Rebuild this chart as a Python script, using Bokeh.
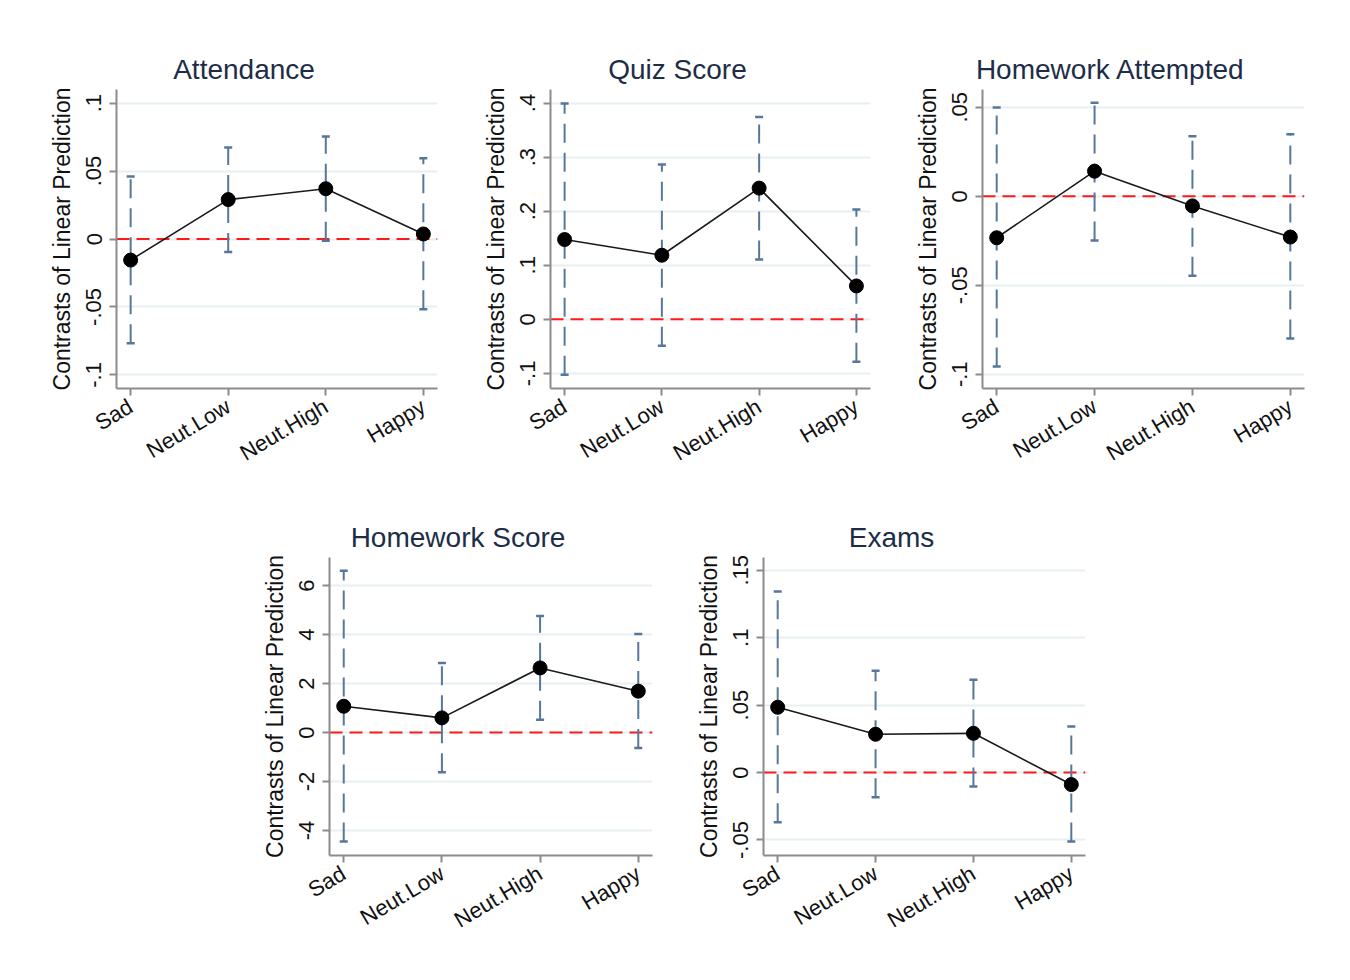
from bokeh.plotting import figure
from bokeh.models import (FixedTicker, Span, Whisker, TeeHead, ColumnDataSource,
                          Title, Range1d, Spacer)
from bokeh.layouts import row, column
from bokeh.embed import file_html
from bokeh.resources import INLINE

# ---------------- data ----------------
categories = ["Sad", "Neut.Low", "Neut.High", "Happy"]
cat_pos = [1, 2, 3, 4]

att_est = [-0.0155, 0.029, 0.037, 0.0037]
att_lo = [-0.0767, -0.0096, -0.0012, -0.0516]
att_hi = [0.046, 0.0673, 0.0754, 0.0595]
att_ticks = [-0.1, -0.05, 0, 0.05, 0.1]
att_tick_labels = ["-.1", "-.05", "0", ".05", ".1"]

quiz_est = [0.1475, 0.1185, 0.2426, 0.0617]
quiz_lo = [-0.1025, -0.0488, 0.1105, -0.0784]
quiz_hi = [0.399, 0.2864, 0.3741, 0.2031]
quiz_ticks = [-0.1, 0, 0.1, 0.2, 0.3, 0.4]
quiz_tick_labels = ["-.1", "0", ".1", ".2", ".3", ".4"]

hwa_est = [-0.0233, 0.0141, -0.0054, -0.0229]
hwa_lo = [-0.0957, -0.0248, -0.0447, -0.0799]
hwa_hi = [0.0499, 0.0525, 0.0338, 0.0349]
hwa_ticks = [-0.1, -0.05, 0, 0.05]
hwa_tick_labels = ["-.1", "-.05", "0", ".05"]

hws_est = [1.075, 0.6, 2.64, 1.69]
hws_lo = [-4.45, -1.62, 0.52, -0.63]
hws_hi = [6.61, 2.84, 4.76, 4.03]
hws_ticks = [-4, -2, 0, 2, 4, 6]
hws_tick_labels = ["-4", "-2", "0", "2", "4", "6"]

exam_est = [0.0484, 0.0284, 0.0291, -0.0089]
exam_lo = [-0.0368, -0.0183, -0.0104, -0.0511]
exam_hi = [0.1343, 0.0756, 0.0689, 0.0341]
exam_ticks = [-0.05, 0, 0.05, 0.1, 0.15]
exam_tick_labels = ["-.05", "0", ".05", ".1", ".15"]

y_title = "Contrasts of Linear Prediction"

FONT = "Liberation Sans"
AXIS_COLOR = "#8c8c8c"
CI_COLOR = "#56779a"
GRID_COLOR = "#e7eff1"
TITLE_COLOR = "#1d2d48"
TITLE_SIZE = 28

# Arial / Liberation Sans advance widths (per 1000 em) to centre titles
ADV = {"A": 667, "t": 278, "e": 556, "n": 556, "d": 556, "a": 556, "c": 500,
       "Q": 778, "u": 556, "i": 222, "z": 500, " ": 278, "S": 667, "o": 556,
       "r": 333, "H": 722, "m": 833, "w": 722, "k": 500, "p": 556, "E": 667,
       "x": 500, "s": 500}


def text_width(s, size):
    return sum(ADV.get(ch, 556) for ch in s) / 1000.0 * size


def make_panel(title, est, lo, hi, yticks, ylabels, ylim,
               width, height, bl, br, bt, bb):
    p = figure(width=width, height=height, output_backend="svg",
               toolbar_location=None, x_range=Range1d(0.855, 4.145),
               y_range=Range1d(*ylim))
    p.min_border_left = bl
    p.min_border_right = br
    p.min_border_top = bt
    p.min_border_bottom = bb
    p.outline_line_color = None
    p.background_fill_color = "white"
    p.border_fill_color = "white"

    fw = width - bl - br
    tw = text_width(title, TITLE_SIZE)
    p.add_layout(Title(text=title, align="left", offset=fw / 2 - 33 - tw / 2,
                       text_font=FONT, text_font_size=f"{TITLE_SIZE}px",
                       text_font_style="normal", text_color=TITLE_COLOR,
                       standoff=9), "above")

    p.xgrid.grid_line_color = None
    p.ygrid.grid_line_color = GRID_COLOR
    p.ygrid.grid_line_width = 2

    # axes
    p.xaxis.ticker = FixedTicker(ticks=cat_pos)
    p.xaxis.major_label_overrides = {k: v for k, v in zip(cat_pos, categories)}
    p.xaxis.major_label_orientation = 0.54
    p.yaxis.ticker = FixedTicker(ticks=yticks)
    p.yaxis.major_label_overrides = {k: v for k, v in zip(yticks, ylabels)}
    p.yaxis.major_label_orientation = "vertical"
    p.yaxis.axis_label = y_title
    for ax in (p.xaxis[0], p.yaxis[0]):
        ax.axis_line_color = AXIS_COLOR
        ax.axis_line_width = 2
        ax.major_tick_line_color = AXIS_COLOR
        ax.major_tick_line_width = 2
        ax.major_tick_out = 7
        ax.major_tick_in = 0
        ax.minor_tick_line_color = None
        ax.major_label_text_font = FONT
        ax.major_label_text_color = "#111111"
        ax.axis_label_text_font = FONT
        ax.axis_label_text_font_style = "normal"
        ax.axis_label_text_font_size = "23px"
        ax.axis_label_text_color = "#111111"
        ax.axis_label_standoff = 9
    p.xaxis.major_label_text_font_size = "22px"
    p.xaxis.major_label_standoff = 9
    p.yaxis.major_label_text_font_size = "22px"
    p.yaxis.major_label_standoff = 8

    # zero reference line
    zero = Span(location=0, dimension="width", line_color="#ff1a1a",
                line_dash="13 7", line_width=2, level="underlay")
    p.add_layout(zero)

    src = ColumnDataSource(dict(x=cat_pos, est=est, lo=lo, hi=hi))
    wh = Whisker(source=src, base="x", lower="lo", upper="hi",
                 line_color=CI_COLOR, line_width=2, line_dash="19 10",
                 level="underlay",
                 upper_head=TeeHead(size=8, line_color=CI_COLOR, line_width=2.5),
                 lower_head=TeeHead(size=8, line_color=CI_COLOR, line_width=2.5))
    p.add_layout(wh)

    p.line("x", "est", source=src, line_color="#1a1a1a", line_width=1.6)
    p.scatter("x", "est", source=src, size=14, fill_color="black",
              line_color="black")
    return p


p1 = make_panel("Attendance", att_est, att_lo, att_hi, att_ticks,
                att_tick_labels, (-0.11, 0.11), 470, 490, 116, 33, 89, 102)
p2 = make_panel("Quiz Score", quiz_est, quiz_lo, quiz_hi, quiz_ticks,
                quiz_tick_labels, (-0.128, 0.425), 430, 490, 80, 30, 89, 102)
p3 = make_panel("Homework Attempted", hwa_est, hwa_lo, hwa_hi, hwa_ticks,
                hwa_tick_labels, (-0.108, 0.060), 442, 490, 82, 38, 89, 102)
p4 = make_panel("Homework Score", hws_est, hws_lo, hws_hi, hws_ticks,
                hws_tick_labels, (-5.02, 7.15), 440, 482, 89, 28, 67, 117)
p5 = make_panel("Exams", exam_est, exam_lo, exam_hi, exam_ticks,
                exam_tick_labels, (-0.0615, 0.1595), 440, 482, 83, 35, 67, 117)

layout = column(row(p1, p2, p3),
                row(Spacer(width=240, height=482), p4, p5))

open("out.html", "w").write(file_html(layout, INLINE))
